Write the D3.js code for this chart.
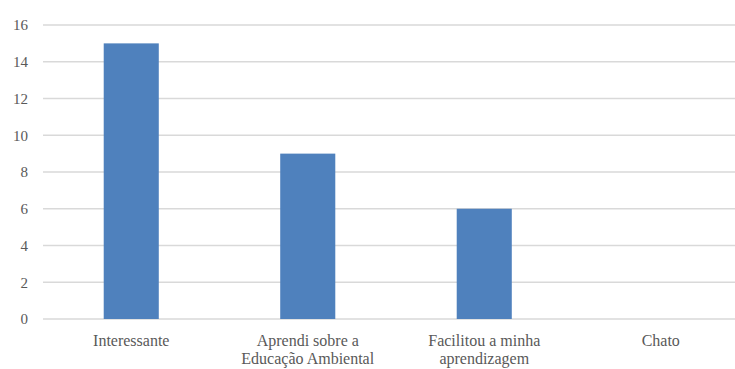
<!DOCTYPE html>
<html>
<head>
<meta charset="utf-8">
<script src="https://cdn.jsdelivr.net/npm/d3@7"></script>
<style>
  body { margin: 0; background: #fff; overflow: hidden; }
  svg { display: block; }
</style>
</head>
<body>
<script>
// Data
var categories = [["Interessante"], ["Aprendi sobre a", "Educação Ambiental"], ["Facilitou a minha", "aprendizagem"], ["Chato"]];
var values = [15, 9, 6, 0];
var yTicks = [0, 2, 4, 6, 8, 10, 12, 14, 16];

var w = 735;
var h = 369;
var serif = "'Liberation Serif', 'Times New Roman', Tinos, serif";

var svg = d3.select("body")
  .append("svg")
  .attr("width", w)
  .attr("height", h);

// plot area runs past the right edge (the picture is cropped)
var x = d3.scaleBand()
  .domain(d3.range(categories.length))
  .range([43, 749])
  .paddingInner(0.688)
  .paddingOuter(0.344);

var y = d3.scaleLinear()
  .domain([0, 16])
  .range([319, 25]);

// gridlines
svg.selectAll(".grid")
  .data(yTicks)
  .enter()
  .append("line")
  .attr("class", "grid")
  .attr("x1", 43)
  .attr("x2", 749)
  .attr("y1", function(d) { return y(d); })
  .attr("y2", function(d) { return y(d); })
  .attr("stroke", "#d9d9d9")
  .attr("stroke-width", 1.5);

// y labels
svg.selectAll(".ylab")
  .data(yTicks)
  .enter()
  .append("text")
  .attr("class", "ylab")
  .attr("x", 28)
  .attr("y", function(d) { return y(d); })
  .attr("dy", "0.35em")
  .attr("text-anchor", "end")
  .style("font-family", serif)
  .style("font-size", "15px")
  .attr("fill", "#595959")
  .text(function(d) { return d; });

// bars
svg.selectAll(".bar")
  .data(values)
  .enter()
  .append("rect")
  .attr("class", "bar")
  .attr("x", function(d, i) { return x(i); })
  .attr("width", x.bandwidth())
  .attr("y", function(d) { return y(d); })
  .attr("height", function(d) { return y(0) - y(d); })
  .attr("fill", "#4f81bd");

// category labels
var labels = svg.selectAll(".xlab")
  .data(categories)
  .enter()
  .append("text")
  .attr("class", "xlab")
  .attr("x", function(d, i) { return x(i) + x.bandwidth() / 2; })
  .attr("y", 346)
  .attr("text-anchor", "middle")
  .style("font-family", serif)
  .style("font-size", "16px")
  .attr("fill", "#595959");

labels.selectAll("tspan")
  .data(function(d) { return d; })
  .enter()
  .append("tspan")
  .attr("x", function() { return d3.select(this.parentNode).attr("x"); })
  .attr("dy", function(d, i) { return i === 0 ? 0 : 18; })
  .text(function(d) { return d; });
</script>
</body>
</html>
